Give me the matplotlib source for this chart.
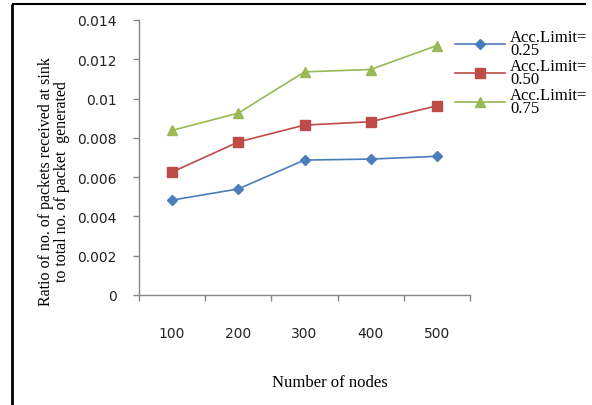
import matplotlib
matplotlib.use("Agg")
import matplotlib.pyplot as plt
from matplotlib.lines import Line2D

# data
nodes = ["100", "200", "300", "400", "500"]
acc_025 = [0.00483, 0.0054, 0.00687, 0.00692, 0.00706]
acc_050 = [0.00626, 0.00779, 0.00865, 0.00882, 0.00963]
acc_075 = [0.00838, 0.00926, 0.01136, 0.01148, 0.01270]
series_labels = ["Acc.Limit=\n0.25", "Acc.Limit=\n0.50", "Acc.Limit=\n0.75"]
y_ticks = [0, 0.002, 0.004, 0.006, 0.008, 0.01, 0.012, 0.014]
y_tick_labels = ["0", "0.002", "0.004", "0.006", "0.008", "0.01", "0.012", "0.014"]

serif = ["Liberation Serif", "DejaVu Serif"]
axis_gray = "#868686"

fig = plt.figure(figsize=(5.92, 4.06), dpi=100)
ax = fig.add_axes([139 / 592, 110 / 406, 331 / 592, 275 / 406])

x = list(range(len(nodes)))
ax.plot(x, acc_025, color="#4A7EBB", marker="D", markersize=5, lw=1.2,
        label=series_labels[0])
ax.plot(x, acc_050, color="#BE4B48", marker="s", markersize=6.5, lw=1.2,
        label=series_labels[1])
ax.plot(x, acc_075, color="#98B954", marker="^", markersize=7, lw=1.2,
        label=series_labels[2])

ax.set_xlim(-0.5, len(nodes) - 0.5)
ax.set_ylim(0, 0.014)

# category axis: labels centred, tick marks between categories
ax.set_xticks(x)
ax.set_xticklabels(nodes, fontsize=10, family="DejaVu Sans", color="#222222")
ax.set_xticks([i - 0.5 for i in range(len(nodes) + 1)], minor=True)
ax.tick_params(axis="x", which="major", length=0, pad=22)
ax.tick_params(axis="x", which="minor", length=4, width=1, color=axis_gray,
               direction="out")

ax.set_yticks(y_ticks)
ax.set_yticklabels(y_tick_labels, fontsize=10, family="DejaVu Sans",
                   color="#222222")
ax.tick_params(axis="y", length=4, width=1, color=axis_gray, pad=12)

for side in ("top", "right"):
    ax.spines[side].set_visible(False)
for side in ("left", "bottom"):
    ax.spines[side].set_color(axis_gray)
    ax.spines[side].set_linewidth(1)

fig.text(54 / 592, 1 - 182 / 406,
         "Ratio of no. of packets received at sink\nto total no. of packet  generated",
         rotation=90, ha="center", va="center", fontsize=11.5, family=serif,
         linespacing=1.0)
fig.text(330 / 592, 1 - 383 / 406, "Number of nodes", ha="center",
         va="center", fontsize=12, family=serif)

leg = ax.legend(loc="upper left", bbox_to_anchor=(0.935, 0.99), frameon=False,
                prop={"family": serif, "size": 12}, handlelength=3.0,
                handletextpad=0.3, labelspacing=0.0, borderaxespad=0)
for t in leg.get_texts():
    t.set_linespacing(0.75)

# frame lines on the left and top edges of the figure
fig.add_artist(Line2D([12 / 592, 12 / 592], [0, 1 - 5 / 406], color="black",
                      lw=2, transform=fig.transFigure, solid_capstyle="butt"))
fig.add_artist(Line2D([12 / 592, 586 / 592], [1 - 5 / 406, 1 - 5 / 406],
                      color="black", lw=1.5, transform=fig.transFigure,
                      solid_capstyle="butt"))

fig.savefig("out.png", dpi=100)
